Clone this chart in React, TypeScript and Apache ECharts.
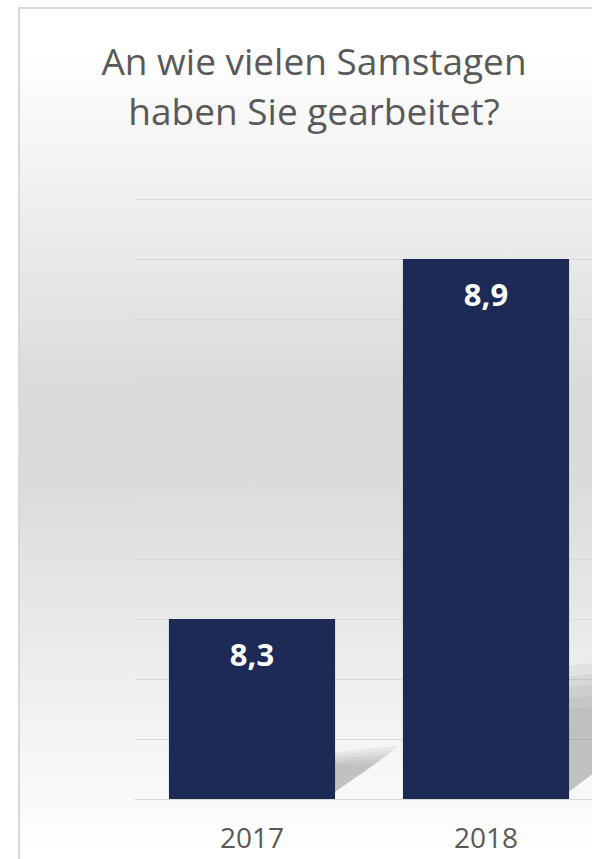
import React, { useEffect, useRef } from "react";
import * as echarts from "echarts";

const categories = ["2017", "2018"];
const values = [8.3, 8.9];
const valueLabels = ["8,3", "8,9"];
const yMin = 8;
const yMax = 9;
const yInterval = 0.1;
const titleLines = ["An wie vielen Samstagen", "haben Sie gearbeitet?"];

export default function App() {
  const ref = useRef<HTMLDivElement>(null);
  useEffect(() => {
    if (!ref.current) return;
    const chart = echarts.init(ref.current, undefined, { renderer: "svg" });
    const font = "'Open Sans', 'Noto Sans', sans-serif";
    chart.setOption({
      animation: false,
      backgroundColor: "#ffffff",
      graphic: [
        {
          type: "rect",
          z: -100,
          silent: true,
          shape: { x: 19, y: 8, width: 700, height: 900 },
          style: {
            stroke: "#d9d9d9",
            lineWidth: 2,
            fill: new echarts.graphic.LinearGradient(0, 0, 0, 1, [
              { offset: 0, color: "#ffffff" },
              { offset: 0.05, color: "#ffffff" },
              { offset: 0.44, color: "#d9d9d9" },
              { offset: 0.5, color: "#d9d9d9" },
              { offset: 0.94, color: "#ffffff" },
              { offset: 1, color: "#ffffff" },
            ]),
          },
        },
        {
          type: "text",
          z: 10,
          x: 314,
          y: 85,
          style: {
            text: titleLines.join("\n"),
            fill: "#595959",
            font: `37px ${font}`,
            fontFamily: font,
            fontSize: 37,
            lineHeight: 50,
            align: "center",
            verticalAlign: "middle",
          },
        },
      ],
      grid: { left: 135, top: 199, width: 468, height: 600, containLabel: false },
      xAxis: {
        type: "category",
        data: categories,
        axisTick: { show: false },
        axisLine: { show: true, lineStyle: { color: "#d9d9d9", width: 1 } },
        axisLabel: {
          color: "#595959",
          fontFamily: font,
          fontSize: 28,
          margin: 24,
        },
      },
      yAxis: {
        type: "value",
        min: yMin,
        max: yMax,
        interval: yInterval,
        axisLabel: { show: false },
        axisLine: { show: false },
        axisTick: { show: false },
        splitLine: { show: true, lineStyle: { color: "#d9d9d9", width: 1 } },
      },
      series: [
        {
          type: "custom",
          z: 1,
          silent: true,
          data: values.map((v, i) => [i, v]),
          renderItem: (params: any, api: any) => {
            const idx = api.value(0);
            const v = api.value(1);
            const top = api.coord([idx, v]);
            const base = api.coord([idx, yMin]);
            const band = api.size([1, 0])[0];
            const bw = band * 0.71;
            const xR = top[0] + bw / 2;
            const h = base[1] - top[1];
            const children = [] as any[];
            const layers = 5;
            for (let k = 0; k < layers; k++) {
              const s = 1 - k * 0.09;
              const cx = xR;
              const by = base[1] - 3;
              children.push({
                type: "polygon",
                shape: {
                  points: [
                    [cx - 6, by],
                    [cx - 6, by - 0.24 * h * s - k],
                    [cx + 0.36 * h * s, by - 0.28 * h * s],
                  ],
                },
                style: { fill: "rgba(110,110,110,0.09)" },
              });
            }
            return { type: "group", children };
          },
        },
        {
          type: "bar",
          z: 2,
          data: values,
          barWidth: "71%",
          itemStyle: { color: "#1e2a56" },
          label: {
            show: true,
            position: "insideTop",
            distance: 19,
            color: "#ffffff",
            fontFamily: font,
            fontWeight: "bold",
            fontSize: 31,
            formatter: (p: any) => valueLabels[p.dataIndex],
          },
        },
      ],
    });
    return () => chart.dispose();
  }, []);
  return (
    <div
      style={{
        position: "absolute",
        left: 0,
        top: 0,
        width: 592,
        height: 859,
        overflow: "hidden",
      }}
    >
      <div ref={ref} style={{ width: 640, height: 859 }} />
    </div>
  );
}
